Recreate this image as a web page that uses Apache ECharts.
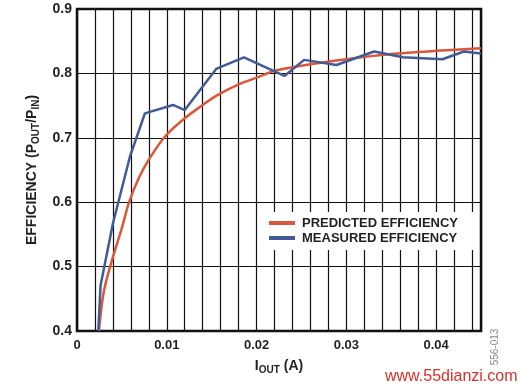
<!DOCTYPE html>
<html><head><meta charset="utf-8">
<script src="https://cdn.jsdelivr.net/npm/echarts@6/dist/echarts.min.js"></script>
<style>html,body{margin:0;padding:0;background:#fff}#c{width:520px;height:389px}</style>
</head><body><div id="c"></div>
<script>
var predictedX = [0.00244,0.0030,0.0039,0.0050,0.0058,0.0069,0.0080,0.0098,0.0118,0.0137,0.0155,0.0180,0.0203,0.0220,0.0250,0.0300,0.0350,0.0400,0.0450];
var predictedY = [0.400,0.462,0.510,0.560,0.600,0.638,0.666,0.702,0.728,0.748,0.765,0.783,0.795,0.804,0.812,0.822,0.830,0.835,0.839];
var measuredX = [0.00237,0.00263,0.0040,0.0059,0.00756,0.0107,0.0120,0.0155,0.0186,0.0231,0.0253,0.0289,0.0331,0.0363,0.0407,0.0431,0.0450];
var measuredY = [0.400,0.471,0.567,0.671,0.738,0.751,0.743,0.807,0.825,0.796,0.821,0.813,0.834,0.825,0.822,0.834,0.831];
var xTickLabels = ['0','0.01','0.02','0.03','0.04'];
var seriesNames = ['PREDICTED EFFICIENCY','MEASURED EFFICIENCY'];

function zip(a,b){return a.map(function(v,i){return [v,b[i]];});}
var FONT = '"Liberation Sans", Arial, sans-serif';
var TXT = '#231f20';
var chart = echarts.init(document.getElementById('c'));
chart.setOption({
  animation:false,
  backgroundColor:'#fff',
  grid:{left:77,right:39,top:9,bottom:58,show:true,borderColor:'#111',borderWidth:2.5,backgroundColor:'transparent'},
  legend:{
    left:261, top:212, orient:'vertical', itemGap:1,
    backgroundColor:'#fff', padding:[4,20,5,8],
    itemWidth:26, itemHeight:4, icon:'rect',
    textStyle:{fontFamily:FONT,fontWeight:'bold',fontSize:13,color:TXT,lineHeight:14,padding:[0,0,0,2]},
    data:seriesNames
  },
  xAxis:{
    type:'value', min:0, max:0.045, interval:0.002,
    axisLine:{show:false}, axisTick:{show:false},
    splitLine:{show:true,lineStyle:{color:'#111',width:1.2}},
    axisLabel:{margin:8,fontFamily:FONT,fontWeight:'bold',fontSize:13,color:TXT,
      formatter:function(v){
        var k=Math.round(v*100);
        if(Math.abs(v*100-k)<1e-6 && k<xTickLabels.length) return xTickLabels[k];
        return '';
      }},
    name:'{b|I}{s|OUT}{b| (A)}', nameLocation:'middle', nameGap:26,
    nameTextStyle:{rich:{
      b:{fontFamily:FONT,fontWeight:'bold',fontSize:14,color:TXT,lineHeight:18},
      s:{fontFamily:FONT,fontWeight:'bold',fontSize:10,color:TXT,lineHeight:11,verticalAlign:'bottom'}
    }}
  },
  yAxis:{
    type:'value', min:0.4, max:0.9, interval:0.1,
    axisLine:{show:false}, axisTick:{show:false},
    splitLine:{show:true,lineStyle:{color:'#111',width:1.2}},
    axisLabel:{margin:5,fontFamily:FONT,fontWeight:'bold',fontSize:14,color:TXT,
      formatter:function(v){return v.toFixed(1);}},
    name:'{b|EFFICIENCY (P}{s|OUT}{b|/P}{s|IN}{b|)}', nameLocation:'middle', nameGap:28,
    nameTextStyle:{rich:{
      b:{fontFamily:FONT,fontWeight:'bold',fontSize:14,color:TXT,lineHeight:18},
      s:{fontFamily:FONT,fontWeight:'bold',fontSize:10,color:TXT,lineHeight:11,verticalAlign:'bottom'}
    }}
  },
  series:[
    {name:seriesNames[0],type:'line',data:zip(predictedX,predictedY),smooth:0.3,showSymbol:false,
      lineStyle:{color:'#d9573a',width:2.5},itemStyle:{color:'#d9573a'},z:3},
    {name:seriesNames[1],type:'line',data:zip(measuredX,measuredY),showSymbol:false,
      lineStyle:{color:'#405b96',width:2.5},itemStyle:{color:'#405b96'},z:4}
  ],
  graphic:[
    {type:'text',left:385,top:369,style:{text:'www.55dianzi.com',font:'normal 16px '+FONT,fill:'#d9302c'}},
    {type:'text',x:495,y:347,rotation:Math.PI/2,style:{text:'556-013',font:'normal 10px '+FONT,fill:'#888',align:'center',verticalAlign:'middle'}}
  ]
});
</script></body></html>
